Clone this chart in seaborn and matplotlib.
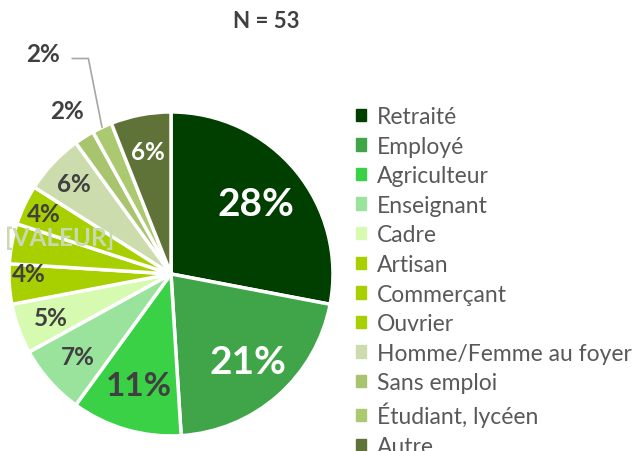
import numpy as np
import matplotlib
matplotlib.use("Agg")
import matplotlib.pyplot as plt
import matplotlib.patches as mpatches
import seaborn as sns

categories = ["Retraité", "Employé", "Agriculteur", "Enseignant", "Cadre",
              "Artisan", "Commerçant", "Ouvrier", "Homme/Femme au foyer",
              "Sans emploi", "Étudiant, lycéen", "Autre"]
shares = [28, 21, 11, 7, 5, 4, 4, 4, 6, 2, 2, 6]
labels = ["28%", "21%", "11%", "7%", "5%", "4%", "[VALEUR]", "4%", "6%", "2%", "2%", "6%"]
colors = ["#003f00", "#3fa548", "#3bd146", "#9ae39c", "#d6fbb0",
          "#a8d000", "#a8d000", "#a8d000", "#ccdcac", "#a8c46e",
          "#abc970", "#5f7237"]
n_total = 53

sns.set_style("white")
plt.rcParams["font.family"] = ["Lato", "DejaVu Sans"]

DARK = "#404040"
fig = plt.figure(figsize=(6.39, 4.52), dpi=100)
ax = fig.add_axes([0.0141, 0.0332, 0.507, 0.717])

wedges, _ = ax.pie(shares, colors=colors, startangle=90, counterclock=False,
                   wedgeprops=dict(edgecolor="white", linewidth=2.5))
ax.set_xlim(-1, 1)
ax.set_ylim(-1, 1)
ax.set_aspect("equal")

# label styling per slice
label_r = [0.68, 0.72, 0.72, 0.77, 0.79, 0.88, 0.66, 0.87, 0.82, None, None, 0.77]
label_size = [28, 28, 24, 17.5, 17.5, 17.5, 17.5, 17.5, 17.5, 17.5, 17.5, 17.5]
label_color = ["white", "white", DARK, DARK, DARK, DARK, "#c9d9b3",
               DARK, DARK, DARK, DARK, "white"]

for i, w in enumerate(wedges):
    mid = np.deg2rad((w.theta1 + w.theta2) / 2)
    if label_r[i] is not None:
        x, y = label_r[i] * np.cos(mid), label_r[i] * np.sin(mid)
        if labels[i].startswith("["):
            y += 0.1
            x -= 0.04
        elif i == 5:
            y += 0.06
        ax.text(x, y, labels[i], ha="center", va="center", fontsize=label_size[i],
                fontweight="bold", color=label_color[i])

# outside labels for the two small slices
ax.text(-0.64, 1.01, labels[9], ha="center", va="center", fontsize=17.5,
        fontweight="bold", color=DARK)
mid_e = np.deg2rad((wedges[10].theta1 + wedges[10].theta2) / 2)
ax.plot([-0.61, -0.51, 1.0 * np.cos(mid_e)], [1.33, 1.33, 1.0 * np.sin(mid_e)],
        color="#a6a6a6", lw=1.2, clip_on=False)
ax.text(-0.79, 1.36, labels[10], ha="center", va="center", fontsize=17.5,
        fontweight="bold", color=DARK)

fig.text(266 / 639, 1 - 22 / 452, f"N = {n_total}", ha="center", va="center",
         fontsize=16, fontweight="bold", color=DARK)

handles = [mpatches.Patch(color=c, label=l) for c, l in zip(colors, categories)]
leg = fig.legend(handles=handles, loc="upper left", bbox_to_anchor=(356 / 639, 1 - 107 / 452),
                 frameon=False, fontsize=16.5, handlelength=0.45, handleheight=0.45,
                 handletextpad=0.45, labelspacing=0.375, borderaxespad=0,
                 borderpad=0)
for t in leg.get_texts():
    t.set_color("#595959")

fig.savefig("out.png", dpi=100, facecolor="white")
